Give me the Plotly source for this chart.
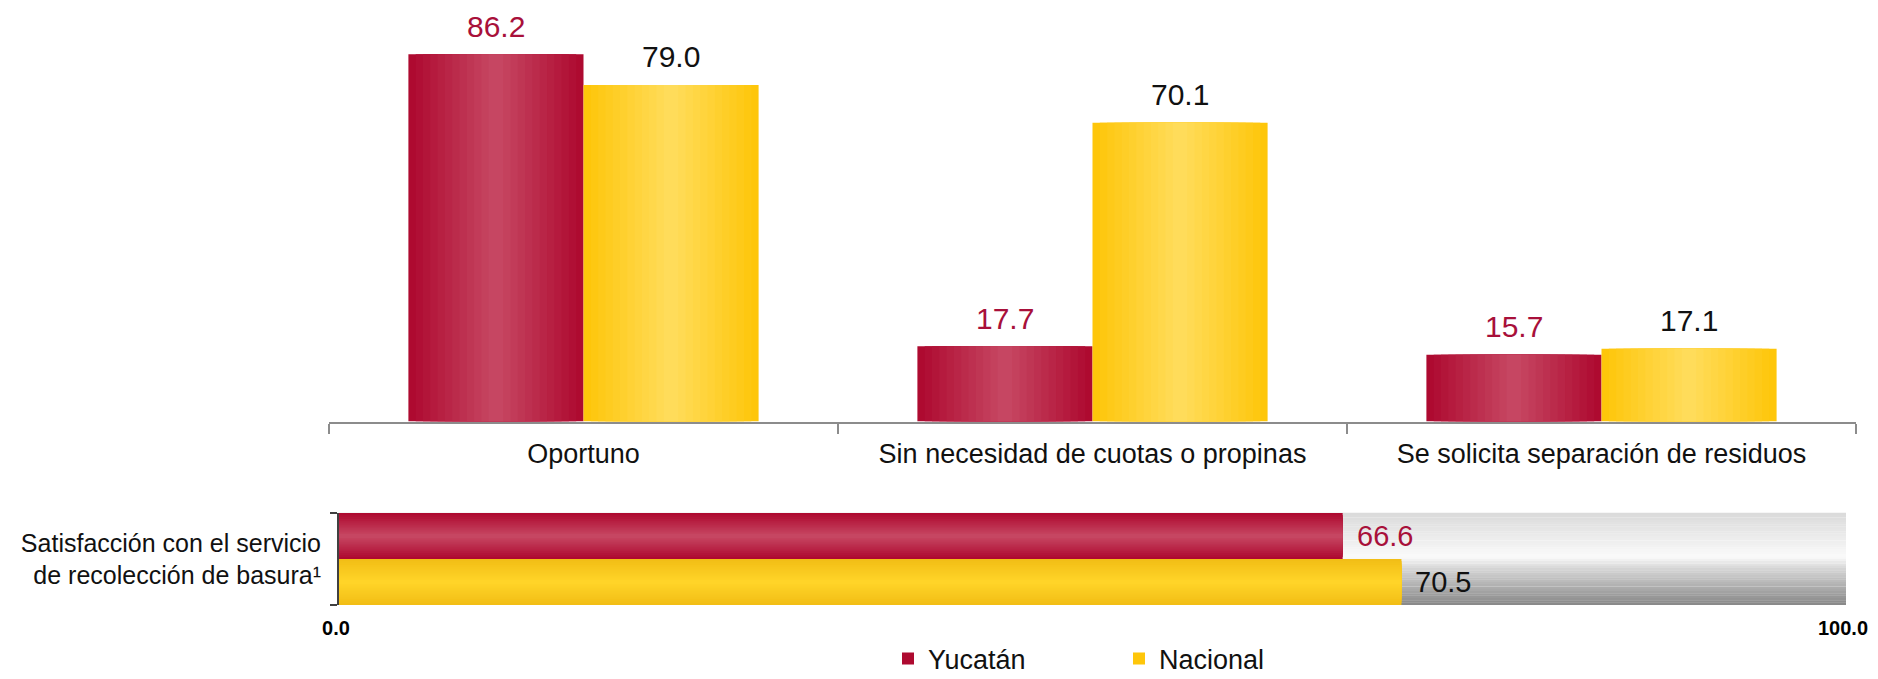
import plotly.graph_objects as go

# ---------------- data ----------------
categories = ["Oportuno", "Sin necesidad de cuotas o propinas", "Se solicita separación de residuos"]
yucatan = [86.2, 17.7, 15.7]
nacional = [79.0, 70.1, 17.1]

sat_category = ["Satisfacción con el servicio<br>de recolección de basura¹"]
sat_yucatan = [66.6]
sat_nacional = [70.5]

series_names = ["Yucatán", "Nacional"]
x2_ticks = [0, 100]
x2_ticktext = ["0.0", "100.0"]

# ---------------- style ----------------
W, H = 1878, 720
ML, MR, MT, MB = 321, 30, 30, 123
FONT = "Arial, 'Liberation Sans', sans-serif"
RED_EDGE, RED_MID = (174, 10, 48), (198, 70, 98)
YEL_EDGE, YEL_MID = (254, 198, 10), (255, 220, 90)
RED_TEXT = "#A8103A"

plot_w = W - ML - MR
plot_h = H - MT - MB
AXIS_Y = 413.6        # top chart baseline (px from top of figure)
TRACK_TOP = 505       # bottom chart top (px)


def mix(a, b, t):
    return "rgb(%d,%d,%d)" % tuple(round(a[i] + (b[i] - a[i]) * t) for i in range(3))


fig = go.Figure()

NL = 12           # gradient layers
BW = 0.344        # bar width (category units)


def add_layers(x, y, center, edge, mid, name, orientation, xaxis, yaxis, width, showlegend):
    for k in range(NL):
        f = 1 - k / NL
        wl = width * f
        fig.add_trace(go.Bar(
            x=x, y=y, orientation=orientation, width=wl, offset=center - wl / 2,
            marker=dict(color=mix(edge, mid, k / (NL - 1)), line=dict(width=0)),
            xaxis=xaxis, yaxis=yaxis, hoverinfo="skip", name=name,
            legendgroup=name, showlegend=(showlegend and k == 0), cliponaxis=False))


# top chart
add_layers(categories, yucatan, -BW / 2, RED_EDGE, RED_MID, series_names[0], "v", "x", "y", BW, True)
add_layers(categories, nacional, BW / 2, YEL_EDGE, YEL_MID, series_names[1], "v", "x", "y", BW, True)

# bottom chart (horizontal)
add_layers(sat_yucatan, sat_category, 0.25, RED_EDGE, RED_MID, series_names[0], "h", "x2", "y2", 0.5, False)
add_layers(sat_nacional, sat_category, -0.25, (242, 190, 22), (255, 212, 40), series_names[1],
           "h", "x2", "y2", 0.5, False)

# value labels
annotations = []
for i, v in enumerate(yucatan):
    annotations.append(dict(x=i - BW / 2, y=v, xref="x", yref="y", text="%.1f" % v,
                            showarrow=False, yanchor="middle", yshift=28,
                            font=dict(family=FONT, size=30, color=RED_TEXT)))
for i, v in enumerate(nacional):
    annotations.append(dict(x=i + BW / 2, y=v, xref="x", yref="y", text="%.1f" % v,
                            showarrow=False, yanchor="middle", yshift=28,
                            font=dict(family=FONT, size=30, color="#111111")))
for v, pos, col in ((sat_yucatan[0], 0.25, RED_TEXT), (sat_nacional[0], -0.25, "#111111")):
    annotations.append(dict(x=v, y=pos, xref="x2", yref="y2", text="%.1f" % v,
                            showarrow=False, xanchor="left", yanchor="middle", xshift=12,
                            font=dict(family=FONT, size=29, color=col)))

# gradient track behind bottom bars
N = 40
keys = [(0.0, 218), (0.48, 250), (0.6, 215), (0.8, 175), (1.0, 135)]


def gray_at(s):
    for (s0, g0), (s1, g1) in zip(keys[:-1], keys[1:]):
        if s0 <= s <= s1:
            return g0 + (g1 - g0) * (s - s0) / (s1 - s0)
    return keys[-1][1]


shapes = []
for i in range(N):
    s = (i + 0.5) / N
    g = round(gray_at(s))
    shapes.append(dict(type="rect", xref="x2 domain", yref="y2 domain",
                       x0=0, x1=1, y0=1 - (i + 1) / N, y1=1 - i / N + 0.002,
                       fillcolor="rgb(%d,%d,%d)" % (g, g, g), line=dict(width=0),
                       layer="below"))

top_dom_bottom = (H - MB - AXIS_Y) / plot_h
bot_dom_top = (H - MB - TRACK_TOP) / plot_h
x2_d0 = (331 - ML) / plot_w
x2_d1 = (1838 - ML) / plot_w

fig.update_layout(
    width=W, height=H,
    margin=dict(l=ML, r=MR, t=MT, b=MB, pad=0),
    paper_bgcolor="white", plot_bgcolor="white",
    barmode="overlay",
    template="none",
    shapes=shapes,
    annotations=annotations,
    font=dict(family=FONT, color="#111111"),
    showlegend=True,
    legend=dict(orientation="h", x=(1111 - ML) / plot_w, y=-(651 - (H - MB)) / plot_h,
                xanchor="center", yanchor="middle",
                font=dict(family=FONT, size=27, color="#111111"),
                entrywidth=186, entrywidthmode="pixels",
                itemwidth=30, bgcolor="rgba(0,0,0,0)"),
    xaxis=dict(domain=[0, 1], anchor="y", type="category", range=[-0.5, 2.5],
               showline=True, linecolor="#8C8C8C", linewidth=2,
               ticks="outside", tickson="boundaries", ticklen=10, tickwidth=2,
               tickcolor="#8C8C8C", showgrid=False, zeroline=False,
               tickfont=dict(family=FONT, size=27, color="#111111"),
               ticklabelstandoff=7, automargin=False, fixedrange=True),
    yaxis=dict(domain=[top_dom_bottom, 1], anchor="x", range=[0, 90],
               visible=False, showgrid=False, zeroline=False, automargin=False),
    xaxis2=dict(domain=[x2_d0, x2_d1], anchor="y2", range=[0, 100],
                tickmode="array", tickvals=x2_ticks, ticktext=x2_ticktext,
                showline=False, ticks="", showgrid=False, zeroline=False,
                tickfont=dict(family=FONT, size=20, color="#000000", weight="bold"),
                ticklabelstandoff=9, ticklabelshift=-3, automargin=False),
    yaxis2=dict(domain=[0, bot_dom_top], anchor="x2", type="category", range=[-0.5, 0.5],
                showline=True, linecolor="#404040", linewidth=2,
                ticks="outside", tickson="boundaries", ticklen=7, tickwidth=2,
                tickcolor="#404040", showgrid=False, zeroline=False,
                tickfont=dict(family=FONT, size=25, color="#111111"),
                ticklabelstandoff=11, automargin=False),
)

fig.write_html("out.html")
